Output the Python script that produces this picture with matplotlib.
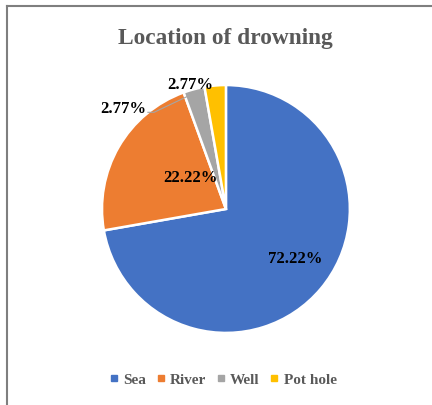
import matplotlib
matplotlib.use('Agg')
import matplotlib.pyplot as plt
from matplotlib.lines import Line2D
import numpy as np

# data
locations = ['Sea', 'River', 'Well', 'Pot hole']
percent = [72.22, 22.22, 2.77, 2.77]
colours = ['#4472C4', '#ED7D31', '#A5A5A5', '#FFC000']

# label placement (pie units, radius = 1)
lbl_xy = [(0.56, -0.40), (-0.29, 0.25), (-0.83, 0.81), (-0.29, 1.00)]

plt.rcParams['font.family'] = ['Liberation Serif', 'DejaVu Serif']

fig = plt.figure(figsize=(4.32, 4.05), dpi=100)
ax = fig.add_axes([0.523 - 0.287, 0.484 - 0.306, 0.574, 0.612])

wedges, _ = ax.pie(percent, colors=colours, startangle=90, counterclock=False,
                   wedgeprops=dict(edgecolor='white', linewidth=1.8))
ax.set_xlim(-1, 1)
ax.set_ylim(-1, 1)
ax.set_aspect('equal')

for i in range(len(percent)):
    ax.text(lbl_xy[i][0], lbl_xy[i][1], '%.2f%%' % percent[i], ha='center', va='center',
            fontsize=12, fontweight='bold', color='black')

# leader line for Well
w = wedges[2]
mid = np.deg2rad((w.theta1 + w.theta2) / 2.)
ax.plot([lbl_xy[2][0] + 0.20, lbl_xy[2][0] + 0.25, 0.97 * np.cos(mid)],
        [lbl_xy[2][1] - 0.03, lbl_xy[2][1] - 0.03, 0.97 * np.sin(mid)],
        color='#A5A5A5', lw=0.8, clip_on=False)

fig.text(0.522, 0.905, 'Location of drowning', ha='center', va='center',
         fontsize=16.8, fontweight='bold', color='#595959')

handles = [Line2D([], [], marker='s', ls='', color=c, markersize=5) for c in colours]
fig.legend(handles, locations, loc='center', bbox_to_anchor=(0.515, 0.062), ncol=4,
           frameon=False, handletextpad=0.2, columnspacing=0.55, handlelength=0.8,
           prop=dict(size=11, weight='bold'), labelcolor='#595959')

# frame lines top and left
fig.add_artist(Line2D([0.017, 1.0], [0.985, 0.985], color='#7f7f7f', lw=1.5))
fig.add_artist(Line2D([0.017, 0.017], [0.0, 0.985], color='#7f7f7f', lw=1.5))

plt.savefig('out.png', dpi=100)
